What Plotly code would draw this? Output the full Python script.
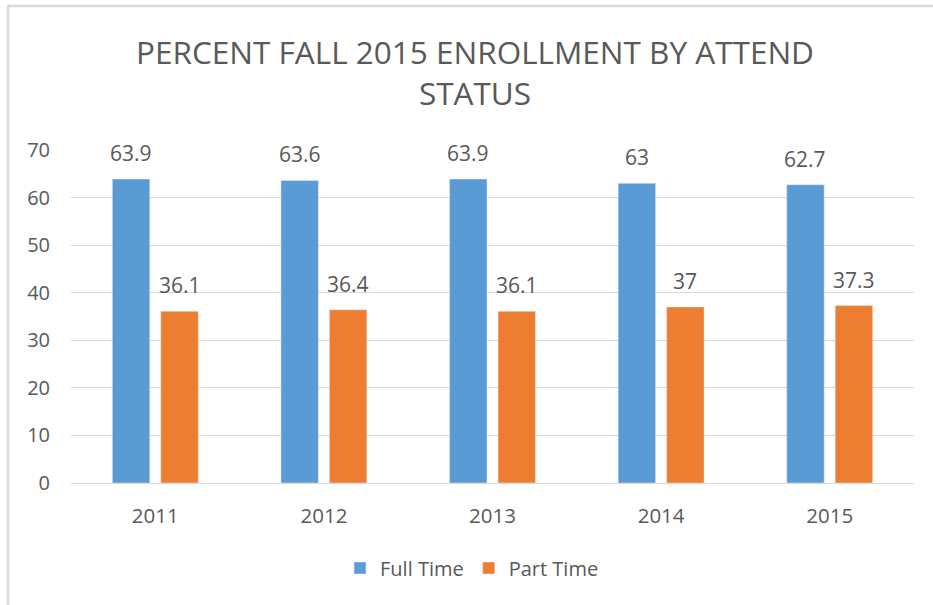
import plotly.graph_objects as go

years = ["2011", "2012", "2013", "2014", "2015"]
full_time = [63.9, 63.6, 63.9, 63, 62.7]
part_time = [36.1, 36.4, 36.1, 37, 37.3]
y_ticks = [0, 10, 20, 30, 40, 50, 60, 70]

FONT = "Open Sans"
GRAY = "#595959"
LBL = 21
BLUE, ORANGE = "#5B9BD5", "#ED7D31"

L, R, T, B = 71, 19, 150, 122
W, H = 933, 605
pw, ph = W - L - R, H - T - B
BARGAP, GROUPGAP = 0.425, 0.227

def px(x):
    return (x - L) / pw

def py(y):
    return (H - B - y) / ph

fig = go.Figure()
fig.add_trace(go.Bar(x=years, y=full_time, name="Full Time", marker_color=BLUE))
fig.add_trace(go.Bar(x=years, y=part_time, name="Part Time", marker_color=ORANGE))

# data labels above each bar (offset within the group derived from the bar layout)
slot = pw / len(years) * (1 - BARGAP) / 2
annotations = []
for vals, sign in ((full_time, -1), (part_time, 1)):
    for i, v in enumerate(vals):
        annotations.append(dict(x=i, y=v, xref="x", yref="y", text=f"{v:g}", showarrow=False,
                                xshift=sign * slot / 2, yshift=26, yanchor="middle",
                                font=dict(size=LBL, color=GRAY, family=FONT)))

frame = dict(color="#D9D9D9", width=2.5)

fig.update_layout(
    width=W, height=H,
    margin=dict(l=L, r=R, t=T, b=B),
    paper_bgcolor="white", plot_bgcolor="white",
    font=dict(family=FONT, color=GRAY, size=20),
    title=dict(text="PERCENT FALL 2015 ENROLLMENT BY ATTEND<br>STATUS",
               x=475 / W, xanchor="center", y=1 - 64 / H, yanchor="middle",
               font=dict(size=31.5, color=GRAY, family=FONT)),
    barmode="group", bargap=BARGAP, bargroupgap=GROUPGAP,
    showlegend=True,
    legend=dict(orientation="h", x=px(472), xanchor="center", y=py(568), yanchor="middle",
                font=dict(size=20, color=GRAY, family=FONT), itemwidth=30, traceorder="normal"),
    xaxis=dict(type="category", showgrid=False, showline=False, ticks="", ticklabelstandoff=18,
               tickfont=dict(size=20.5, color=GRAY)),
    yaxis=dict(range=[0, 70], tickvals=y_ticks, showgrid=True, gridcolor="#D9D9D9", gridwidth=1,
               zeroline=True, zerolinecolor="#D9D9D9", zerolinewidth=1, showline=False,
               ticks="", ticklabelstandoff=20, tickfont=dict(size=20, color=GRAY)),
    annotations=annotations,
    shapes=[
        dict(type="line", xref="paper", yref="paper", x0=px(7), x1=px(933), y0=py(6), y1=py(6),
             line=frame, layer="below"),
        dict(type="line", xref="paper", yref="paper", x0=px(8), x1=px(8), y0=py(6), y1=py(605),
             line=frame, layer="below"),
    ],
)

fig.write_html("out.html", config={"displayModeBar": False},
               post_script="document.body.style.margin='0';")
